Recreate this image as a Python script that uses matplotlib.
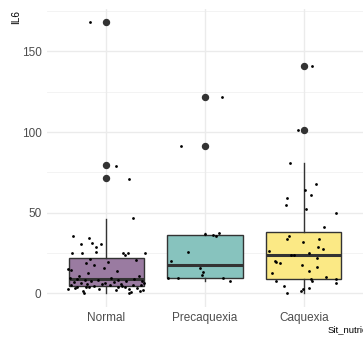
import matplotlib
matplotlib.use('Agg')
import matplotlib.pyplot as plt

# categories and box summary values
groups = ['Normal', 'Precaquexia', 'Caquexia']
box_q1 = [4.5, 9.7, 8.7]
box_med = [8.7, 17.7, 23.7]
box_q3 = [22.0, 36.0, 38.0]
whisk_lo = [0.0, 7.6, 0.3]
whisk_hi = [46.0, 37.6, 80.6]
outliers = [[71.3, 79.3, 168.0], [91.5, 121.5], [101.5, 141.0]]
fills = ['#9A7BA1', '#87C3BE', '#FBE985']

# jittered raw points: IL6 value and horizontal jitter
normal_il6 = [168, 79, 71, 46.5, 35.5, 34.5, 31.0, 30.4, 30.4, 28.9,
              25.0, 25.0, 25.5, 25.0, 25.0, 25.0, 23.5, 21.3, 20.8, 19.4,
              18.8, 17.5, 15.0, 15.5, 13.8, 14.5, 12.5, 11.0, 10.5, 9.5,
              9.3, 9.0, 8.8, 8.5, 8.2, 8.0, 7.8, 7.5, 7.3, 7.0,
              6.8, 6.5, 6.2, 6.0, 5.8, 5.5, 5.1, 5.1, 5.1, 5.0,
              4.8, 4.5, 4.1, 4.1, 4.1, 3.9, 3.7, 3.5, 3.1, 2.9,
              2.7, 2.5, 2.3, 2.0, 1.6, 1.2, 0.8, 0.0, 0.0, 6.3]
normal_dx = [-0.16, 0.10, 0.23, 0.27, -0.34, -0.17, -0.14, -0.26, -0.05, -0.10,
             -0.35, -0.25, -0.10, 0.17, 0.22, 0.39, 0.19, -0.16, 0.30, 0.02,
             -0.21, -0.12, -0.39, -0.02, 0.11, -0.36, -0.18, 0.33, -0.28, 0.05,
             -0.37, -0.30, 0.28, -0.22, 0.12, -0.08, 0.36, -0.15, 0.20, -0.33,
             0.08, -0.26, 0.38, -0.04, 0.15, -0.20, -0.36, 0.04, 0.27, 0.35,
             -0.12, 0.16, -0.21, 0.12, 0.19, -0.30, -0.17, 0.31, -0.32, 0.23,
             -0.39, -0.07, 0.10, 0.37, 0.34, -0.24, 0.25, -0.23, 0.23, -0.01]

pre_il6 = [121.5, 91.5, 36.8, 36.3, 35.3, 37.6, 25.4, 20.0, 15.9, 13.4,
           11.5, 9.7, 9.7, 9.5, 7.6]
pre_dx = [0.17, -0.24, 0.0, 0.08, 0.11, 0.14, -0.17, -0.34, -0.05, -0.02,
          -0.03, -0.37, -0.27, 0.18, 0.25]

caq_il6 = [141, 101.5, 80.6, 64.2, 67.6, 60.7, 58.9, 54.7, 52.3, 49.6,
           40.9, 35.5, 33.5, 33.9, 31.8, 28.5, 27.5, 26.0, 25.2, 23.7,
           23.7, 21.7, 20.2, 19.4, 18.8, 17.5, 16.3, 13.6, 12.8, 10.1,
           8.7, 7.4, 8.9, 6.6, 7.8, 4.7, 3.3, 2.7, 1.6, 0.0]
caq_dx = [0.08, -0.06, -0.14, 0.01, 0.12, 0.07, -0.17, -0.18, 0.02, 0.33,
          0.20, -0.15, -0.17, 0.15, -0.01, 0.14, 0.19, -0.35, 0.05, -0.13,
          -0.10, 0.13, -0.29, -0.28, -0.24, -0.02, 0.13, 0.05, -0.32, 0.23,
          0.07, 0.08, 0.33, 0.33, -0.28, -0.20, 0.05, -0.01, -0.03, -0.17]

points = [(normal_il6, normal_dx), (pre_il6, pre_dx), (caq_il6, caq_dx)]

plt.rcParams['font.family'] = ['Liberation Sans', 'DejaVu Sans']

fig = plt.figure(figsize=(3.63, 3.38), dpi=100)
ax = fig.add_axes([0.1295, 0.0923, 0.8705, 0.8816])

# grid like theme_minimal
for v in [25, 75, 125, 175]:
    ax.axhline(v, color='#EEEEEE', lw=0.5, zorder=0)
for v in [0, 50, 100, 150]:
    ax.axhline(v, color='#EBEBEB', lw=1.0, zorder=0)
for i in range(len(groups)):
    ax.axvline(i + 1, color='#EBEBEB', lw=1.0, zorder=0)

stats = []
for i, g in enumerate(groups):
    stats.append({'label': g, 'q1': box_q1[i], 'med': box_med[i], 'q3': box_q3[i],
                  'whislo': whisk_lo[i], 'whishi': whisk_hi[i], 'fliers': outliers[i]})

bp = ax.bxp(stats, positions=[1, 2, 3], widths=0.76, patch_artist=True,
            showcaps=False,
            boxprops=dict(edgecolor='#333333', linewidth=1.0),
            medianprops=dict(color='#333333', linewidth=2.2),
            whiskerprops=dict(color='#333333', linewidth=1.0),
            flierprops=dict(marker='o', markerfacecolor='#333333',
                            markeredgecolor='#333333', markersize=4.3))
for patch, c in zip(bp['boxes'], fills):
    patch.set_facecolor(c)
    patch.set_zorder(2)

for i, (vals, dxs) in enumerate(points):
    xs = [i + 1 + d for d in dxs]
    ax.scatter(xs, vals, s=4.0, color='black', zorder=4, linewidths=0)

ax.set_xlim(0.4, 3.6)
ax.set_ylim(-8.4, 176.4)
ax.set_yticks([0, 50, 100, 150])
ax.set_xticks([1, 2, 3])
ax.set_xticklabels(groups)
ax.tick_params(length=0, labelsize=8.5, labelcolor='#4D4D4D', pad=4)
for s in ax.spines.values():
    s.set_visible(False)

fig.text(16.5 / 363, 1 - 10 / 338, 'IL6', rotation=90, ha='center', va='top',
         fontsize=7.2, color='black')
fig.text(328 / 363, 1 - 330 / 338, 'Sit_nutricional', ha='left', va='center',
         fontsize=6.8, color='black')

fig.savefig('out.png', dpi=100)
